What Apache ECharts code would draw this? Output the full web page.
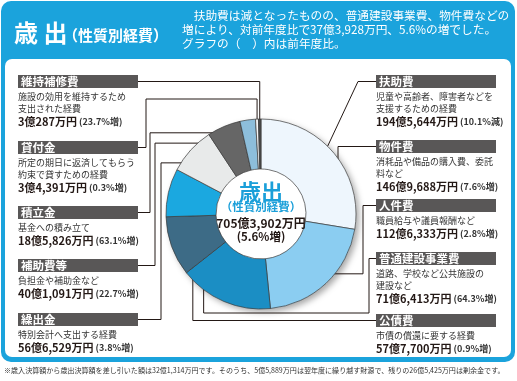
<!DOCTYPE html>
<html><head><meta charset="utf-8">
<script src="https://cdn.jsdelivr.net/npm/echarts@6/dist/echarts.min.js"></script>
<style>html,body{margin:0;padding:0;background:#fff}#c{width:517px;height:381px}</style>
</head><body><div id="c"></div>
<script>
// ---- data ----
const categories = ['扶助費','物件費','人件費','普通建設事業費','公債費','繰出金','補助費等','積立金','貸付金','維持補修費'];
const amounts = [1945644,1469688,1126333,716413,577700,566529,401091,185826,34391,30287]; // 万円
const changes = [-10.1,7.6,2.8,64.3,0.9,3.8,22.7,63.1,0.3,23.7]; // 前年度比 %
const descriptions = [
  ['児童や高齢者、障害者などを','支援するための経費'],
  ['消耗品や備品の購入費、委託','料など'],
  ['職員給与や議員報酬など'],
  ['道路、学校など公共施設の','建設など'],
  ['市債の償還に要する経費'],
  ['特別会計へ支出する経費'],
  ['負担金や補助金など'],
  ['基金への積み立て'],
  ['所定の期日に返済してもらう','約束で貸すための経費'],
  ['施設の効用を維持するため','支出された経費']
];
const totalChange = 5.6;
const headerLines = ['　扶助費は減となったものの、普通建設事業費、物件費などの','増により、対前年度比で37億3,928万円、5.6%の増でした。','グラフの（　）内は前年度比。'];
const footnote = '※歳入決算額から歳出決算額を差し引いた額は32億1,314万円です。そのうち、5億5,889万円は翌年度に繰り越す財源で、残りの26億5,425万円は剰余金です。';

// ---- styles / layout ----
const sliceColors = ['#eef6fd','#8bcdf1','#1b8ec4','#3d6b86','#1ba8e0','#e8eaea','#666666','#8dbedb','#f6f6f6','#4a4a4a'];
const FONT = '"Noto Sans CJK JP","Noto Sans",sans-serif';
const BLUE = '#1ba3dc';
const CX = 261, CY = 214, R0 = 45, R1 = 95;
// label boxes (top-left) and leader routes
const labelBoxes = [
  {x:376, y:75,  r:76, route:'diag',  ex:358},
  {x:376, y:140, r:62, route:'elbow', vx:338},
  {x:376, y:199, r:65, route:'elbow', vx:363},
  {x:376, y:252, r:61, route:'under', vx:369, hy:313},
  {x:376, y:314, r:70, route:'down'},
  {x:18,  y:313, r:76, route:'elbow', vx:161},
  {x:18,  y:259, r:77, route:'elbow', vx:155},
  {x:18,  y:206, r:82, route:'elbow', vx:150},
  {x:18,  y:141, r:93, route:'under', vx:146, hy:99},
  {x:18,  y:75,  r:93, route:'down'}
];
const BAR_W = 120, BAR_H = 13;

function fmtYen(v){ const oku=Math.floor(v/10000), man=v%10000; return oku+'億'+(man? man.toLocaleString('en-US'):'')+'万円'; }
function fmtChange(c){ return '('+Math.abs(c)+'%'+(c<0?'減':'増')+')'; }
const total = amounts.reduce((a,b)=>a+b,0);
function midAngle(i){ let s=0; for(let k=0;k<i;k++) s+=amounts[k]; return (s+amounts[i]/2)/total*2*Math.PI; }
function slicePoint(i,r){ const a=midAngle(i); return [CX + r*Math.sin(a), CY - r*Math.cos(a)]; }

function leader(i){
  const b = labelBoxes[i];
  const right = b.x > CX;
  const ax = right ? b.x : b.x + BAR_W;
  const ay = b.y + BAR_H/2;
  const d = slicePoint(i, b.r);
  if (b.route==='diag') return [[ax,ay],[b.ex,ay],d];
  if (b.route==='elbow') return [[ax,ay],[b.vx,ay],[b.vx,d[1]],d];
  if (b.route==='under') return [[ax,ay],[b.vx,ay],[b.vx,b.hy],[d[0],b.hy],d];
  return [[ax,ay],[d[0],ay],d];
}

const rich = {
  hd:{color:'#fff',fontSize:11.5,fontWeight:'bold',fontFamily:FONT,backgroundColor:'#595757',width:BAR_W-3,height:BAR_H,lineHeight:16,verticalAlign:'top',padding:[0,0,0,3]},
  ds:{color:'#333',fontSize:9,fontFamily:FONT,lineHeight:12},
  am:{color:'#231815',fontSize:11,fontWeight:'bold',fontFamily:FONT,lineHeight:13},
  pc:{color:'#333',fontSize:9,fontWeight:'bold',fontFamily:FONT,lineHeight:13}
};

const chart = echarts.init(document.getElementById('c'), null, {renderer:'canvas'});
chart.setOption({
  animation:false,
  graphic:[
    {type:'rect', z:-10, silent:true, shape:{x:1,y:1,width:514,height:361,r:10}, style:{fill:BLUE}},
    {type:'rect', z:-9, silent:true, shape:{x:5,y:59,width:506,height:298,r:7}, style:{fill:'#fff'}},
    {type:'text', z:5, x:14, y:33, style:{text:'歳 出', fill:'#fff', font:'bold 24px '+FONT, verticalAlign:'middle', textVerticalAlign:'middle'}},
    {type:'text', z:5, x:63, y:35, style:{text:'（性質別経費）', fill:'#fff', font:'bold 15px '+FONT, verticalAlign:'middle', textVerticalAlign:'middle'}},
    {type:'text', z:5, x:182, y:16, style:{text:headerLines[0], fill:'#fff', font:'11.7px '+FONT, verticalAlign:'middle', textVerticalAlign:'middle'}},
    {type:'text', z:5, x:182, y:30, style:{text:headerLines[1], fill:'#fff', font:'11.7px '+FONT, verticalAlign:'middle', textVerticalAlign:'middle'}},
    {type:'text', z:5, x:182, y:43.5, style:{text:headerLines[2], fill:'#fff', font:'11.7px '+FONT, verticalAlign:'middle', textVerticalAlign:'middle'}},
    {type:'text', z:10, x:CX, y:192, style:{text:'歳出', fill:'#1a9fd9', font:'bold 22px '+FONT, align:'center', textAlign:'center', verticalAlign:'middle', textVerticalAlign:'middle'}},
    {type:'text', z:10, x:CX, y:207, style:{text:'（性質別経費）', fill:'#1a9fd9', font:'bold 11.5px '+FONT, align:'center', textAlign:'center', verticalAlign:'middle', textVerticalAlign:'middle'}},
    {type:'text', z:10, x:CX, y:223.5, style:{text:fmtYen(total), fill:'#231815', font:'bold 12px '+FONT, align:'center', textAlign:'center', verticalAlign:'middle', textVerticalAlign:'middle'}},
    {type:'text', z:10, x:CX, y:236.5, style:{text:'('+totalChange+'%増)', fill:'#231815', font:'bold 11.5px '+FONT, align:'center', textAlign:'center', verticalAlign:'middle', textVerticalAlign:'middle'}},
    {type:'text', z:5, x:4, y:370.5, style:{text:footnote, fill:'#333', font:'7.05px '+FONT, verticalAlign:'middle', textVerticalAlign:'middle'}}
  ],
  series:[
    {
      type:'pie', z:1, silent:true, center:[CX,CY], radius:[0,R1],
      data:[{value:total, itemStyle:{color:'#fff', shadowBlur:6, shadowOffsetX:3, shadowOffsetY:3, shadowColor:'rgba(0,0,0,0.35)'}}],
      label:{show:false}, labelLine:{show:false}, emphasis:{disabled:true}
    },
    {
      type:'pie', z:2, silent:true, center:[CX,CY], radius:[R0,R1], startAngle:90, clockwise:true,
      avoidLabelOverlap:false,
      data: categories.map((c,i)=>({name:c, value:amounts[i], itemStyle:{color:sliceColors[i]}})),
      itemStyle:{borderColor:'#3a3a3a', borderWidth:0.7},
      emphasis:{disabled:true},
      label:{
        show:true, position:'outside', width:128, overflow:'none', fontFamily:FONT,
        formatter:p=>{ const i=p.dataIndex; return ['{hd|'+categories[i]+'}'].concat(descriptions[i].map(d=>'{ds|'+d+'}')).concat(['{am|'+fmtYen(amounts[i])+'}{pc| '+fmtChange(changes[i])+'}']).join('\n'); },
        rich: rich
      },
      labelLine:{show:true, showAbove:true, smooth:false, lineStyle:{color:'#231815', width:1}},
      labelLayout: p => {
        const i = p.dataIndex, b = labelBoxes[i];
        return {x:b.x, y:b.y, align:'left', verticalAlign:'top', labelLinePoints: leader(i)};
      }
    }
  ]
});
</script></body></html>
